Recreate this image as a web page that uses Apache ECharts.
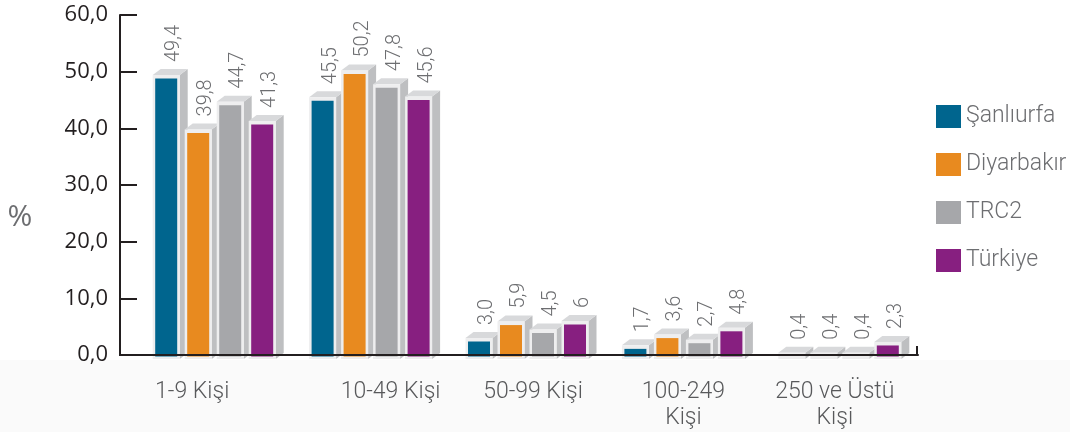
<!DOCTYPE html>
<html>
<head>
<meta charset="utf-8">
<script src="https://cdn.jsdelivr.net/npm/echarts@6/dist/echarts.min.js"></script>
<style>
html,body{margin:0;padding:0;background:#fff;}
#chart{width:1070px;height:432px;}
</style>
</head>
<body>
<div id="chart"></div>
<script>
var categories = ['1-9 Kişi', '10-49 Kişi', '50-99 Kişi', '100-249\nKişi', '250 ve Üstü\nKişi'];
var seriesNames = ['Şanlıurfa', 'Diyarbakır', 'TRC2', 'Türkiye'];
var sanliurfa = [49.4, 45.5, 3.0, 1.7, 0.4];
var diyarbakir = [39.8, 50.2, 5.9, 3.6, 0.4];
var trc2 = [44.7, 47.8, 4.5, 2.7, 0.4];
var turkiye = [41.3, 45.6, 6, 4.8, 2.3];
var sanliurfaLabels = ['49,4', '45,5', '3,0', '1,7', '0,4'];
var diyarbakirLabels = ['39,8', '50,2', '5,9', '3,6', '0,4'];
var trc2Labels = ['44,7', '47,8', '4,5', '2,7', '0,4'];
var turkiyeLabels = ['41,3', '45,6', '6', '4,8', '2,3'];
var yTicks = [0, 10, 20, 30, 40, 50, 60];
var yUnit = '%';

var seriesValues = [sanliurfa, diyarbakir, trc2, turkiye];
var seriesLabels = [sanliurfaLabels, diyarbakirLabels, trc2Labels, turkiyeLabels];
var colors = ['#00658e', '#e88a1f', '#a6a7aa', '#871f80'];
var labelShift = [-22, 20, 6, 0, -5];

var N = seriesNames.length;
function makeRender(sIdx) {
  return function (params, api) {
    var cat = api.value(0), val = api.value(1);
    var top = api.coord([cat, val]);
    var base = api.coord([cat, 0]);
    var W = 27, STEP = 32, DX = 8, DY = 6, B = 2.5;
    var span = STEP * (N - 1) + W;
    var xl = top[0] - span / 2 + sIdx * STEP;
    var xr = xl + W;
    var yT = top[1], yB = base[1] + 4;
    var children = [];
    children.push({type: 'polygon', shape: {points: [[xr, yT], [xr + DX, yT - DY], [xr + DX, yB - DY], [xr, yB]]},
      style: {fill: '#bebfc1'}});
    children.push({type: 'polygon', shape: {points: [[xl, yT], [xl + DX, yT - DY], [xr + DX, yT - DY], [xr, yT]]},
      style: {fill: '#d8d9db'}});
    children.push({type: 'rect', shape: {x: xl, y: yT, width: W, height: yB - yT}, style: {fill: '#eeeeef'}});
    if (yB - yT > 2 * B + 3) {
      children.push({type: 'rect', shape: {x: xl + B, y: yT + B + 1, width: W - 2 * B, height: yB - yT - 2 * B - 1},
        style: {fill: colors[sIdx]}});
    }
    children.push({type: 'text', x: xl + W / 2 + 8, y: yT - DY - 7, rotation: Math.PI / 2,
      style: {text: seriesLabels[sIdx][params.dataIndex], fill: '#6d6e71', fontSize: 20,
        fontFamily: 'Roboto', fontWeight: 300, align: 'left', verticalAlign: 'middle'}});
    return {type: 'group', children: children};
  };
}

var series = seriesNames.map(function (name, s) {
  return {
    type: 'custom',
    name: name,
    itemStyle: {color: colors[s]},
    renderItem: makeRender(s),
    data: seriesValues[s].map(function (v, i) { return [i, v]; }),
    z: 3 + s
  };
});

var catData = categories.map(function (c, i) {
  var sh = labelShift[i];
  return {value: c, textStyle: {padding: sh < 0 ? [0, -2 * sh, 0, 0] : [0, 0, 0, 2 * sh]}};
});

var chart = echarts.init(document.getElementById('chart'));
chart.setOption({
  backgroundColor: '#ffffff',
  animation: false,
  graphic: [
    {type: 'rect', z: -10, shape: {x: 0, y: 360, width: 1070, height: 72}, style: {fill: '#fafafa'}},
    {type: 'line', z: 10, shape: {x1: 119, y1: 355, x2: 137, y2: 355}, style: {stroke: '#231f20', lineWidth: 2}},
    {type: 'line', z: 10, shape: {x1: 917, y1: 346, x2: 917, y2: 356}, style: {stroke: '#231f20', lineWidth: 2}},
    {type: 'text', z: 10, x: 20, y: 217, style: {text: yUnit, fill: '#6d6e71', fontFamily: 'Open Sans',
      fontSize: 30, align: 'center', verticalAlign: 'middle'}}
  ],
  legend: {
    orient: 'vertical',
    left: 931,
    top: 100,
    icon: 'rect',
    itemWidth: 25,
    itemHeight: 23,
    itemGap: 25,
    data: seriesNames,
    textStyle: {fontFamily: 'Roboto', fontWeight: 300, fontSize: 23, color: '#6d6e71', padding: [0, 0, 0, 0]}
  },
  grid: {left: 136, right: 152, top: 15, bottom: 77},
  xAxis: {
    type: 'category',
    data: catData,
    axisLine: {lineStyle: {color: '#231f20', width: 2}},
    axisTick: {show: false},
    axisLabel: {
      interval: 0, margin: 24, fontFamily: 'Roboto', fontWeight: 300, fontSize: 23,
      color: '#58595b', lineHeight: 26
    },
    z: 10
  },
  yAxis: {
    type: 'value',
    min: yTicks[0],
    max: yTicks[yTicks.length - 1],
    interval: 10,
    offset: 16,
    axisLine: {show: true, lineStyle: {color: '#231f20', width: 2}},
    axisTick: {show: true, inside: true, length: 17, lineStyle: {color: '#231f20', width: 2}},
    splitLine: {show: false},
    axisLabel: {
      margin: 12, fontFamily: 'Open Sans', fontSize: 22, color: '#231f20',
      formatter: function (v) { return v.toFixed(1).replace('.', ','); }
    }
  },
  series: series
});
</script>
</body>
</html>
